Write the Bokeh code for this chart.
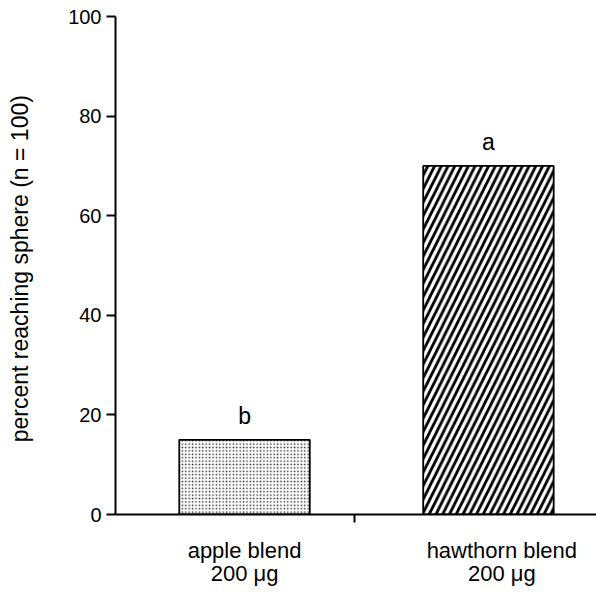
from bokeh.plotting import figure
from bokeh.models import Range1d, FixedTicker, LinearAxis, ColumnDataSource
from bokeh.core.properties import value
from bokeh.embed import file_html
from bokeh.resources import INLINE

# ---- data ----
categories = ["apple blend", "hawthorn blend"]
doses = ["200 \u03bcg", "200 \u03bcg"]
percent = [15, 70]
letters = ["b", "a"]
y_ticks = [0, 20, 40, 60, 80, 100]
y_label = "percent  reaching sphere (n = 100)"

# ---- styling / layout ----
FONT_NAME = "Liberation Sans"
FONT = value(FONT_NAME)
positions = [i + 1 for i in range(len(categories))]
hatches = [".", "/"]
hatch_scales = [3.4, 13.5]
hatch_weights = [1.5, 2.8]
hatch_colors = ["#333333", "black"]
label_shift = [0, 0.055]   # small horizontal nudge of the category labels

p = figure(width=596, height=594,
           x_range=Range1d(0.471, 2.443), y_range=Range1d(0, 100),
           output_backend="svg", toolbar_location=None,
           min_border_left=115, min_border_right=0,
           min_border_top=16, min_border_bottom=80)
p.outline_line_color = None
p.xgrid.visible = False
p.ygrid.visible = False
p.background_fill_color = "white"
p.border_fill_color = "white"

src = ColumnDataSource(dict(x=positions, top=percent, hatch=hatches,
                            hs=hatch_scales, hw=hatch_weights, hc=hatch_colors,
                            letter=letters))
p.vbar(x="x", top="top", bottom=0, width=0.535, source=src,
       fill_color="white", line_color="black", line_width=1.8,
       hatch_pattern="hatch", hatch_scale="hs", hatch_weight="hw",
       hatch_color="hc")

p.text(x="x", y="top", text="letter", source=src, y_offset=-11,
       text_align="center", text_baseline="bottom",
       text_font=FONT, text_font_size="23px", text_color="black")

# x axis: only the divider tick
xa = p.xaxis[0]
xa.ticker = FixedTicker(ticks=[1.45])
xa.major_label_overrides = {1.45: ""}
xa.major_tick_in = 0
xa.major_tick_out = 8
xa.major_tick_line_width = 2
xa.minor_tick_line_color = None
xa.axis_line_width = 2
xa.axis_line_color = "black"
xa.major_label_text_font_size = "1px"
xa.major_label_standoff = 0

# second axis carrying the category labels
label_ticks = [pos + sh for pos, sh in zip(positions, label_shift)]
cat_axis = LinearAxis(ticker=FixedTicker(ticks=label_ticks),
                      major_label_overrides={t: f"{c}\n{d}" for t, c, d in
                                             zip(label_ticks, categories, doses)})
cat_axis.axis_line_color = None
cat_axis.major_tick_line_color = None
cat_axis.minor_tick_line_color = None
cat_axis.major_tick_in = 0
cat_axis.major_tick_out = 0
cat_axis.major_label_standoff = 15
cat_axis.major_label_text_font = FONT_NAME
cat_axis.major_label_text_font_size = "22px"
cat_axis.major_label_text_color = "black"
cat_axis.major_label_text_line_height = 0.93
p.add_layout(cat_axis, "below")

ya = p.yaxis[0]
ya.ticker = FixedTicker(ticks=y_ticks)
ya.major_tick_in = 0
ya.major_tick_out = 9
ya.major_tick_line_width = 2
ya.minor_tick_line_color = None
ya.axis_line_width = 2
ya.axis_line_color = "black"
ya.major_label_standoff = 5
ya.major_label_text_font = FONT_NAME
ya.major_label_text_font_size = "20px"
ya.major_label_text_color = "black"
ya.axis_label = y_label
ya.axis_label_text_font = FONT_NAME
ya.axis_label_text_font_size = "23px"
ya.axis_label_text_font_style = "normal"
ya.axis_label_text_color = "black"
ya.axis_label_standoff = 32

open("out.html", "w").write(file_html(p, INLINE))
